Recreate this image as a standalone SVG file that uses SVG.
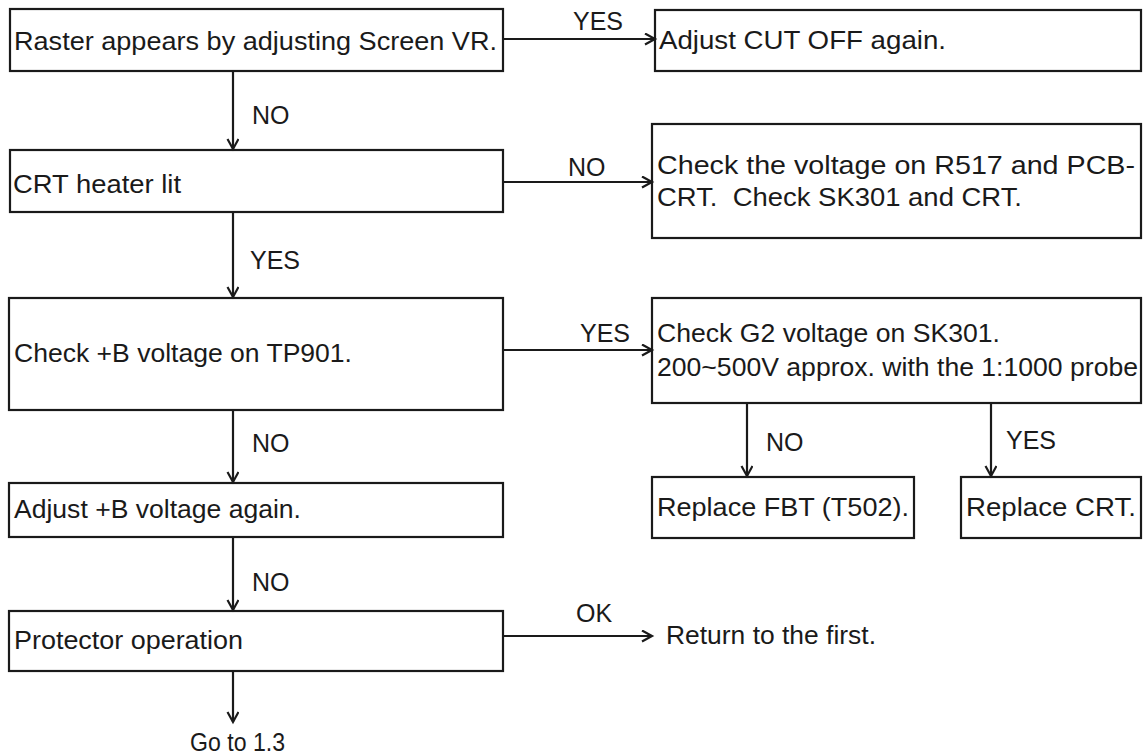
<svg xmlns="http://www.w3.org/2000/svg" width="1148" height="754" viewBox="0 0 1148 754">
<defs>
<style>
.box{fill:none;stroke:#1a1a1a;stroke-width:2.2}
.t{font-family:"Liberation Sans",Arial,sans-serif;font-size:25px;fill:#1a1a1a;white-space:pre}
.c{fill:none;stroke:#1a1a1a;stroke-width:2.2;marker-end:url(#ah)}
</style>
<marker id="ah" markerUnits="userSpaceOnUse" markerWidth="14" markerHeight="14" refX="11" refY="6" orient="auto">
<path d="M1,0.5 L11,6 L1,11.5" fill="none" stroke="#1a1a1a" stroke-width="2.2"/>
</marker>
</defs>
<rect width="1148" height="754" fill="#ffffff"/>
<g id="connectors">
<line class="c" x1="503" y1="39" x2="655" y2="39"/>
<line class="c" x1="233" y1="71" x2="233" y2="149"/>
<line class="c" x1="503" y1="182" x2="652" y2="182"/>
<line class="c" x1="233" y1="212" x2="233" y2="297"/>
<line class="c" x1="503" y1="350" x2="652" y2="350"/>
<line class="c" x1="233" y1="410" x2="233" y2="482"/>
<line class="c" x1="747" y1="403" x2="747" y2="476"/>
<line class="c" x1="991" y1="403" x2="991" y2="476"/>
<line class="c" x1="233" y1="537" x2="233" y2="610"/>
<line class="c" x1="503" y1="636" x2="652" y2="636"/>
<line class="c" x1="233" y1="671" x2="233" y2="722"/>
<text class="t" x="573" y="30">YES</text>
<text class="t" x="252" y="124">NO</text>
<text class="t" x="568" y="176">NO</text>
<text class="t" x="250" y="269">YES</text>
<text class="t" x="580" y="342">YES</text>
<text class="t" x="252" y="452">NO</text>
<text class="t" x="766" y="451">NO</text>
<text class="t" x="1006" y="449">YES</text>
<text class="t" x="252" y="591">NO</text>
<text class="t" x="576" y="622">OK</text>
</g>
<g id="n1"><rect class="box" x="10" y="9" width="493" height="62"/><text class="t" x="14" y="50" textLength="483" lengthAdjust="spacingAndGlyphs">Raster appears by adjusting Screen VR.</text></g>
<g id="n2"><rect class="box" x="655" y="10" width="486" height="61"/><text class="t" x="659" y="49" textLength="287" lengthAdjust="spacingAndGlyphs">Adjust CUT OFF again.</text></g>
<g id="n3"><rect class="box" x="10" y="150" width="493" height="62"/><text class="t" x="13" y="193" textLength="168" lengthAdjust="spacingAndGlyphs">CRT heater lit</text></g>
<g id="n4"><rect class="box" x="652" y="124" width="489" height="114"/><text class="t" x="657" y="174" textLength="478" lengthAdjust="spacingAndGlyphs">Check the voltage on R517 and PCB-</text><text class="t" x="657" y="206" textLength="365" lengthAdjust="spacingAndGlyphs" xml:space="preserve">CRT.  Check SK301 and CRT.</text></g>
<g id="n5"><rect class="box" x="9" y="298" width="494" height="112"/><text class="t" x="14" y="362" textLength="338" lengthAdjust="spacingAndGlyphs">Check +B voltage on TP901.</text></g>
<g id="n6"><rect class="box" x="652" y="298" width="489" height="105"/><text class="t" x="657" y="342" textLength="343" lengthAdjust="spacingAndGlyphs">Check G2 voltage on SK301.</text><text class="t" x="657" y="376" textLength="481" lengthAdjust="spacingAndGlyphs">200~500V approx. with the 1:1000 probe</text></g>
<g id="n7"><rect class="box" x="9" y="483" width="494" height="54"/><text class="t" x="14" y="518" textLength="287" lengthAdjust="spacingAndGlyphs">Adjust +B voltage again.</text></g>
<g id="n8"><rect class="box" x="652" y="477" width="262" height="61"/><text class="t" x="657" y="516" textLength="252" lengthAdjust="spacingAndGlyphs">Replace FBT (T502).</text></g>
<g id="n9"><rect class="box" x="961" y="477" width="180" height="61"/><text class="t" x="966" y="516" textLength="170" lengthAdjust="spacingAndGlyphs">Replace CRT.</text></g>
<g id="n10"><rect class="box" x="9" y="611" width="494" height="60"/><text class="t" x="14" y="649" textLength="229" lengthAdjust="spacingAndGlyphs">Protector operation</text></g>
<g id="n11"><text class="t" x="666" y="644" textLength="210" lengthAdjust="spacingAndGlyphs">Return to the first.</text></g>
<g id="n12"><text class="t" x="190" y="751" textLength="95" lengthAdjust="spacingAndGlyphs">Go to 1.3</text></g>
</svg>
